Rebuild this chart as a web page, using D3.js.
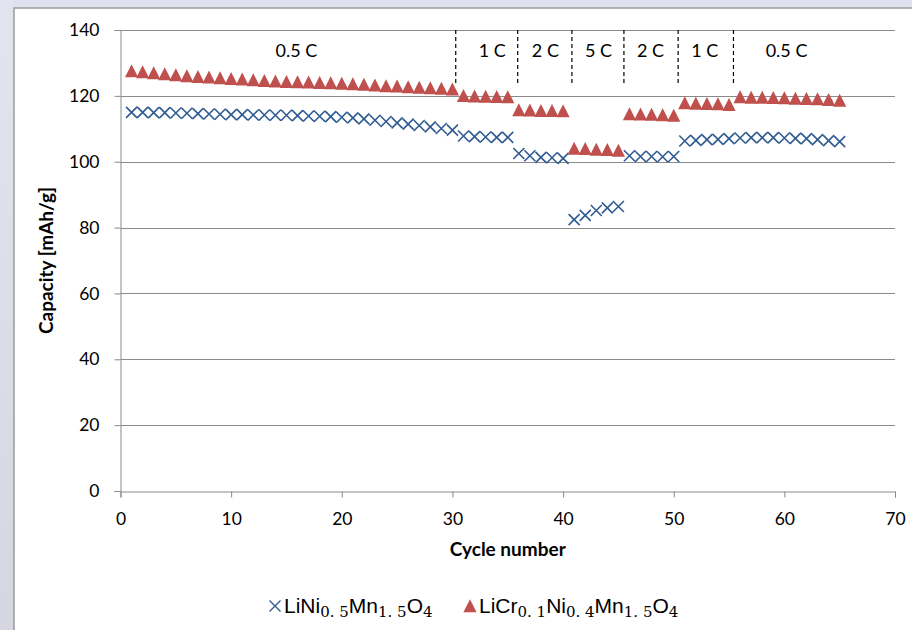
<!DOCTYPE html>
<html>
<head>
<meta charset="utf-8">
<script src="https://cdn.jsdelivr.net/npm/d3@7"></script>
<style>
  body { margin: 0; background: #e0e0ee; }
  #chart { width: 912px; height: 630px; }
  .tick text { font-family: Lato, "Open Sans", sans-serif; font-size: 17.5px; fill: #000; }
</style>
</head>
<body>
<div id="chart"></div>
<script>
// Cycles 1..65 and capacities (mAh/g)
const cycles = d3.range(1, 66);

const lnmo = [
  115.0, 115.0, 114.9, 114.9, 114.8, 114.7, 114.6, 114.5, 114.4, 114.3,
  114.3, 114.2, 114.2, 114.1, 114.1, 114.0, 113.9, 113.8, 113.7, 113.5,
  113.3, 113.0, 112.6, 112.2, 111.8, 111.4, 111.0, 110.6, 110.1, 109.6,
  107.8, 107.6, 107.5, 107.4, 107.4,
  102.5, 101.8, 101.3, 101.2, 101.0,
  82.4, 83.7, 85.2, 86.0, 86.4,
  101.8, 101.6, 101.6, 101.5, 101.6,
  106.3, 106.5, 106.7, 106.8, 107.0,
  107.2, 107.3, 107.3, 107.3, 107.2, 107.1, 107.0, 106.7, 106.4, 106.1
];

const lcnmo = [
  127.5, 127.2, 126.9, 126.6, 126.3, 126.0, 125.8, 125.6, 125.4, 125.2,
  125.0, 124.8, 124.6, 124.4, 124.3, 124.2, 124.1, 124.0, 123.9, 123.7,
  123.6, 123.4, 123.2, 123.0, 122.9, 122.7, 122.5, 122.4, 122.2, 122.0,
  120.0, 119.9, 119.8, 119.7, 119.6,
  115.7, 115.6, 115.5, 115.5, 115.4,
  104.0, 103.9, 103.7, 103.6, 103.4,
  114.5, 114.4, 114.3, 114.2, 114.0,
  117.8, 117.7, 117.6, 117.5, 117.3,
  119.6, 119.5, 119.5, 119.4, 119.3, 119.2, 119.1, 119.0, 118.8, 118.6
];

// C-rate step boundaries and labels
const rateBreaks = [30.3, 35.9, 40.8, 45.5, 50.4, 55.4];
const rateLabels = ["0.5 C", "1 C", "2 C", "5 C", "2 C", "1 C", "0.5 C"];
const rateLabelPos = [15.9, 33.6, 38.4, 43.2, 47.9, 52.8, 60.2];

const xTicks = [0, 10, 20, 30, 40, 50, 60, 70];
const yTicks = [0, 20, 40, 60, 80, 100, 120, 140];

const W = 912, H = 630;
const margin = { top: 30, right: 17, bottom: 139, left: 120.5 };
const width = W - margin.left - margin.right,
      height = H - margin.top - margin.bottom;

const font = "Lato, 'Open Sans', sans-serif";
const red = "#c0504d", blue = "#2f5b91";

const root = d3.select("#chart").append("svg")
  .attr("width", W)
  .attr("height", H);

// background panel
const grad = root.append("defs").append("linearGradient")
  .attr("id", "side").attr("x1", 0).attr("x2", 0).attr("y1", 0).attr("y2", 1);
grad.append("stop").attr("offset", "0%").attr("stop-color", "#e4e4f0");
grad.append("stop").attr("offset", "100%").attr("stop-color", "#d6d6e2");
root.append("rect").attr("x", 0).attr("y", 0).attr("width", 14).attr("height", H).attr("fill", "url(#side)");
root.append("rect")
  .attr("x", 14).attr("y", 8)
  .attr("width", W).attr("height", H)
  .attr("fill", "#fff")
  .attr("stroke", "#9a9a9a")
  .attr("stroke-width", 1.5);

const svg = root.append("g")
  .attr("transform", `translate(${margin.left},${margin.top})`);

const x = d3.scaleLinear().domain([0, 70]).range([0, width]);
const y = d3.scaleLinear().domain([0, 140]).range([height, 0]);

// gridlines
svg.append("g")
  .selectAll("line")
  .data(yTicks.filter(d => d > 0))
  .join("line")
  .attr("x1", 0).attr("x2", width)
  .attr("y1", d => Math.round(y(d)) + 0.5).attr("y2", d => Math.round(y(d)) + 0.5)
  .attr("stroke", "#8a8a8a");

// axes
const xAxis = svg.append("g")
  .attr("transform", `translate(0,${Math.round(height) + 0.5})`)
  .call(d3.axisBottom(x).tickValues(xTicks).tickSize(6).tickPadding(14));
const yAxis = svg.append("g")
  .call(d3.axisLeft(y).tickValues(yTicks).tickSize(6).tickPadding(15));
[xAxis, yAxis].forEach(a => {
  a.select(".domain").attr("stroke", "#8a8a8a");
  a.selectAll(".tick line").attr("stroke", "#8a8a8a");
  a.attr("font-family", null).attr("font-size", null);
});
xAxis.selectAll(".tick text").attr("dy", "0.75em");

// rate step separators
svg.append("g")
  .selectAll("line")
  .data(rateBreaks)
  .join("line")
  .attr("x1", d => x(d)).attr("x2", d => x(d))
  .attr("y1", 0).attr("y2", y(123.2))
  .attr("stroke", "#000")
  .attr("stroke-width", 1.2)
  .attr("stroke-dasharray", "4,3");

svg.append("g")
  .selectAll("text")
  .data(rateLabels)
  .join("text")
  .attr("x", (d, i) => x(rateLabelPos[i]))
  .attr("y", y(131.9))
  .attr("text-anchor", "middle")
  .attr("font-family", font)
  .attr("font-size", 18)
  .text(d => d);

// markers
const triPath = "M0,-6.8L6.6,6.2L-6.6,6.2Z";
const crossPath = "M-5.5,-5.5L5.5,5.5M-5.5,5.5L5.5,-5.5";

svg.append("g")
  .selectAll("path")
  .data(cycles)
  .join("path")
  .attr("transform", (d, i) => `translate(${x(d)},${y(lnmo[i])})`)
  .attr("d", crossPath)
  .attr("fill", "none")
  .attr("stroke", blue)
  .attr("stroke-width", 1.6);

svg.append("g")
  .selectAll("path")
  .data(cycles)
  .join("path")
  .attr("transform", (d, i) => `translate(${x(d)},${y(lcnmo[i])})`)
  .attr("d", triPath)
  .attr("fill", red);

// axis titles
svg.append("text")
  .attr("x", width / 2)
  .attr("y", height + 65)
  .attr("text-anchor", "middle")
  .attr("font-family", font)
  .attr("font-weight", "bold")
  .attr("font-size", 19)
  .text("Cycle number");

svg.append("text")
  .attr("transform", `translate(${-68},${height / 2}) rotate(-90)`)
  .attr("text-anchor", "middle")
  .attr("font-family", font)
  .attr("font-weight", "bold")
  .attr("font-size", 19)
  .text("Capacity [mAh/g]");

// legend
const legend = root.append("g").attr("font-family", "'Liberation Sans', Arial, sans-serif").attr("font-size", 21);
const legendItems = [
  { marker: crossPath, color: blue, x: 275, parts: [["LiNi", 0], ["0. 5", 1], ["Mn", 0], ["1. 5", 1], ["O", 0], ["4", 1]] },
  { marker: triPath, color: red, x: 470, parts: [["LiCr", 0], ["0. 1", 1], ["Ni", 0], ["0. 4", 1], ["Mn", 0], ["1. 5", 1], ["O", 0], ["4", 1]] }
];
legendItems.forEach(item => {
  const g = legend.append("g").attr("transform", `translate(${item.x},606)`);
  g.append("path")
    .attr("d", item.marker)
    .attr("fill", item.marker === triPath ? item.color : "none")
    .attr("stroke", item.marker === triPath ? "none" : item.color)
    .attr("stroke-width", 1.4);
  const t = g.append("text").attr("x", 9).attr("y", 7);
  item.parts.forEach(([s, sub]) => {
    const ts = t.append("tspan").text(s);
    if (sub) ts.attr("font-family", "'DejaVu Serif', serif").attr("font-size", 15).attr("dy", 4);
    else ts.attr("dy", t.selectAll("tspan").size() > 1 ? -4 : 0);
  });
});
</script>
</body>
</html>
